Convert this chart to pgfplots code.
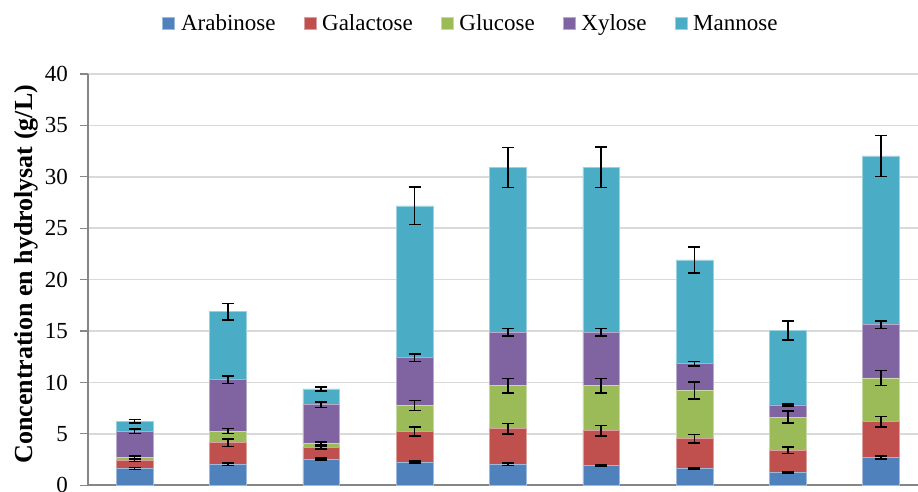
\documentclass[border=0pt]{standalone}
\usepackage{pgfplots}
\pgfplotsset{compat=1.18}
\usepackage{pgfplotstable}
\usepackage{fontspec}
\setmainfont{Liberation Serif}
\definecolor{cAra}{HTML}{4F81BD}
\definecolor{cGal}{HTML}{C0504D}
\definecolor{cGlu}{HTML}{9BBB59}
\definecolor{cXyl}{HTML}{8064A2}
\definecolor{cMan}{HTML}{4BACC6}
\definecolor{gridc}{HTML}{D9D9D9}
\definecolor{axc}{HTML}{868686}

\pgfplotstableread{
x y e
1 1.65 0.10
2 2.04 0.12
3 2.56 0.12
4 2.24 0.10
5 2.04 0.10
6 1.95 0.08
7 1.65 0.08
8 1.26 0.08
9 2.72 0.14
}\tAra
\pgfplotstableread{
x y e
1 0.78 0.12
2 2.11 0.37
3 1.10 0.15
4 2.98 0.45
5 3.47 0.52
6 3.36 0.52
7 2.88 0.42
8 2.17 0.32
9 3.47 0.50
}\tGal
\pgfplotstableread{
x y e
1 0.29 0.12
2 1.13 0.23
3 0.39 0.15
4 2.53 0.49
5 4.18 0.71
6 4.38 0.71
7 4.71 0.83
8 3.21 0.57
9 4.25 0.73
}\tGlu
\pgfplotstableread{
x y e
1 2.53 0.21
2 4.99 0.36
3 3.79 0.29
4 4.66 0.36
5 5.19 0.36
6 5.19 0.36
7 2.59 0.20
8 1.17 0.10
9 5.18 0.37
}\tXyl
\pgfplotstableread{
x y e
1 0.98 0.18
2 6.62 0.81
3 1.53 0.20
4 14.76 1.82
5 16.02 1.95
6 16.05 1.98
7 10.09 1.25
8 7.23 0.91
9 16.41 2.00
}\tMan

\pgfplotsset{
  commonax/.style={
    scale only axis, width=830pt, height=411.3pt,
    xmin=0.5, xmax=9.396, ymin=0, ymax=40,
    ybar stacked, bar width=36.7pt,
  },
  sw/.style={fill=#1, draw=#1!55!white, line width=0.6pt},
  eb/.style={draw=none, fill=none,
    error bars/.cd, y dir=both, y explicit,
    error bar style={black, line width=1.6pt},
    error mark options={black, rotate=90, mark size=6pt, line width=1.6pt}},
}

\begin{document}
\begin{tikzpicture}
\begin{axis}[commonax,
  axis x line*=bottom, axis y line*=left,
  x axis line style={color=axc, line width=1.8pt},
  y axis line style={color=axc, line width=1.2pt},
  xtick=\empty,
  ytick={0,5,...,40},
  tick align=outside, major tick length=7.5pt,
  ytick style={color=axc, line width=1.2pt},
  ymajorgrids, grid style={color=gridc, line width=1.5pt},
  /pgf/number format/assume math mode=true,
  tick label style={font=\fontsize{23}{27}\selectfont},
  yticklabel style={xshift=-9pt},
  ylabel={Concentration en hydrolysat (g/L)},
  ylabel style={at={(axis description cs:-0.0747,0.513)}, anchor=center, rotate=0, font=\fontsize{26}{30}\selectfont\bfseries},
  legend style={draw=none, fill=none, legend columns=5,
    at={(axis description cs:0.4614,1.1228)}, anchor=center,
    font=\fontsize{23}{27}\selectfont,
    /tikz/every odd column/.append style={column sep=4pt},
    /tikz/every even column/.append style={column sep=26pt}},
  legend image code/.code={\fill[#1] (0pt,-6pt) rectangle (12pt,6pt);},
]
\addplot[sw=cAra] table[x=x,y=y] {\tAra};
\addplot[sw=cGal] table[x=x,y=y] {\tGal};
\addplot[sw=cGlu] table[x=x,y=y] {\tGlu};
\addplot[sw=cXyl] table[x=x,y=y] {\tXyl};
\addplot[sw=cMan] table[x=x,y=y] {\tMan};
\legend{Arabinose,Galactose,Glucose,Xylose,Mannose}
\end{axis}
\begin{axis}[commonax, axis lines=none, xtick=\empty, ytick=\empty]
\addplot[eb] table[x=x,y=y,y error=e] {\tAra};
\addplot[eb] table[x=x,y=y,y error=e] {\tGal};
\addplot[eb] table[x=x,y=y,y error=e] {\tGlu};
\addplot[eb] table[x=x,y=y,y error=e] {\tXyl};
\addplot[eb] table[x=x,y=y,y error=e] {\tMan};
\end{axis}
\pgfresetboundingbox
\useasboundingbox (-88pt,-5.7pt) rectangle (830pt,485.3pt);
\end{tikzpicture}
\end{document}
